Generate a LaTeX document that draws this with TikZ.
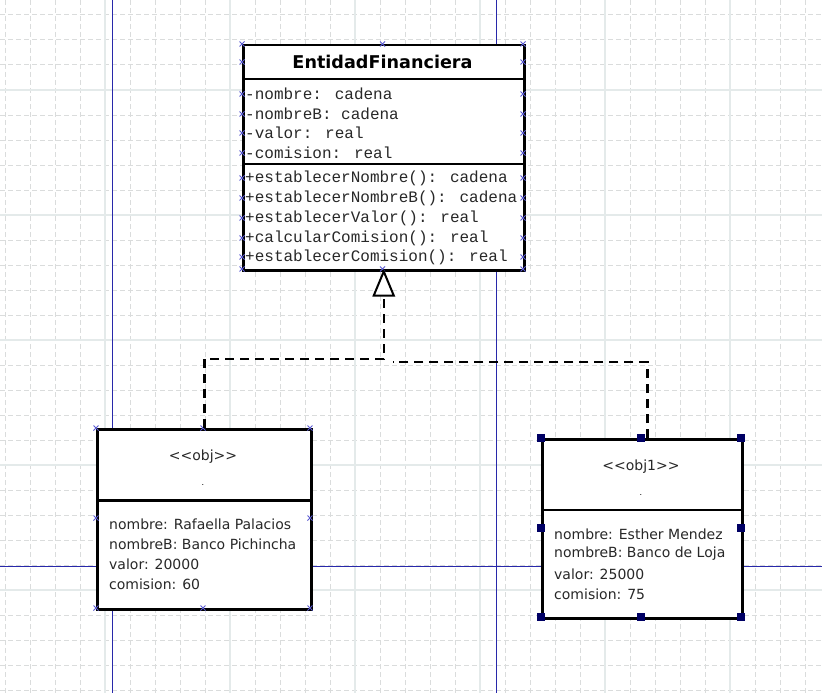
\documentclass[tikz,border=0pt]{standalone}
\usepackage{fontspec}
\setmainfont{DejaVu Sans}
\newfontfamily\monof{Liberation Mono}
\usetikzlibrary{arrows.meta}
\definecolor{gridd}{RGB}{218,220,220}
\definecolor{grids}{RGB}{228,234,234}
\definecolor{guide}{RGB}{40,40,170}
\definecolor{crossc}{RGB}{90,90,210}
\definecolor{handlec}{RGB}{0,0,100}
\definecolor{txt}{RGB}{40,40,40}
\tikzset{
  boxline/.style={draw=black, line width=2.5pt},
  umlbox/.style={boxline, fill=white, inner sep=0pt, anchor=north west},
  monotxt/.style={anchor=west, inner sep=0pt, font=\monof\fontsize{16}{16}\selectfont, text=txt},
  objtxt/.style={anchor=west, inner sep=0pt, font=\fontsize{14}{14}\selectfont, text=txt},
  conn/.style={draw=black, line width=2.5pt, dash pattern=on 9pt off 6pt},
  crs/.pic={\draw[crossc, line width=0.9pt] (-2.5,-2.5)--(2.5,2.5) (-2.5,2.5)--(2.5,-2.5);},
  hdl/.pic={\fill[handlec] (-4,-4) rectangle (4,4);}
}
\begin{document}
\begin{tikzpicture}[x=1pt,y=-1pt]
\useasboundingbox (0,0) rectangle (822,693);
\fill[white] (0,0) rectangle (822,693);
% dashed grid
\foreach \x in {5,30,...,820} \draw[gridd, line width=1pt, dash pattern=on 5pt off 3pt] (\x,0) -- (\x,693);
\foreach \y in {15,40,...,690} \draw[gridd, line width=1pt, dash pattern=on 5pt off 3pt] (0,\y) -- (822,\y);
% solid grid
\foreach \x in {105,230,355,480,605,730} \draw[grids, line width=1.2pt] (\x,0) -- (\x,693);
\foreach \y in {90,215,340,465,590} \draw[grids, line width=1.2pt] (0,\y) -- (822,\y);
% guides
\draw[guide, line width=1.3pt] (112.5,0) -- (112.5,693);
\draw[guide, line width=1.3pt] (496.5,0) -- (496.5,693);
\draw[guide, line width=1.3pt] (0,566.5) -- (822,566.5);

% class box
\node[umlbox, minimum width=281pt, minimum height=225pt] (ent) at (242,44) {};
\draw[boxline] (242,79) -- (523,79);
\draw[boxline] (242,164) -- (523,164);
\node[font=\bfseries\fontsize{17.6}{18}\selectfont, inner sep=0pt] (title) at (382.5,62) {EntidadFinanciera};
\node[monotxt] (a1) at (245,94) {-nombre: cadena};
\node[monotxt] (a2) at (245,114) {-nombreB: cadena};
\node[monotxt] (a3) at (245,133) {-valor: real};
\node[monotxt] (a4) at (245,153) {-comision: real};
\node[monotxt] (m1) at (245,178) {+establecerNombre(): cadena};
\node[monotxt] (m2) at (245,198) {+establecerNombreB(): cadena};
\node[monotxt] (m3) at (245,218) {+establecerValor(): real};
\node[monotxt] (m4) at (245,238) {+calcularComision(): real};
\node[monotxt] (m5) at (245,257) {+establecerComision(): real};
\foreach \y in {44,62,94,114,133,153,178,198,218,238,257,269} {
  \path (242,\y) pic {crs};
  \path (523,\y) pic {crs};
}
\path (382.5,44) pic {crs};
\path (382.5,269) pic {crs};

% object A
\node[umlbox, minimum width=214pt, minimum height=180pt] (objA) at (96,428) {};
\draw[boxline] (96,500.5) -- (310,500.5);
\node[objtxt, anchor=center] (stA) at (203,456.5) {<{}<obj>{}>};
\node[inner sep=0pt, font=\fontsize{8}{8}\selectfont] (dotA) at (203,485) {.};
\node[objtxt] (pa1) at (109,524) {nombre: Rafaella Palacios};
\node[objtxt] (pa2) at (109,544) {nombreB: Banco Pichincha};
\node[objtxt] (pa3) at (109,564) {valor: 20000};
\node[objtxt] (pa4) at (109,584) {comision: 60};
\foreach \p in {(96,428),(203,428),(310,428),(96,518),(310,518),(96,608),(203,608),(310,608)} \path \p pic {crs};

% object B
\node[umlbox, minimum width=200pt, minimum height=179pt] (objB) at (541,438) {};
\draw[boxline] (541,510) -- (741,510);
\node[objtxt, anchor=center] (stB) at (641,466.5) {<{}<obj1>{}>};
\node[inner sep=0pt, font=\fontsize{8}{8}\selectfont] (dotB) at (641,495) {.};
\node[objtxt] (pb1) at (554,534) {nombre: Esther Mendez};
\node[objtxt] (pb2) at (554,554) {nombreB: Banco de Loja};
\node[objtxt] (pb3) at (554,574) {valor: 25000};
\node[objtxt] (pb4) at (554,594) {comision: 75};
\foreach \p in {(541,438),(641,438),(741,438),(541,528),(741,528),(541,617),(641,617),(741,617)} \path \p pic {hdl};

% connectors
\coordinate (jy1) at (0,359);
\coordinate (jy2) at (0,362);
\coordinate (bt) at ([xshift=5pt]objB.north);
\draw[conn] (objA.north) -- (objA.north |- jy1) -- (ent.south |- jy1) -- ([yshift=-24pt]ent.south);
\draw[conn] (bt) -- (bt |- jy2) -- ([xshift=9pt]ent.south |- jy2);
\draw[black, line width=2pt, fill=white, line join=miter] (ent.south) -- ([xshift=-10pt,yshift=-24pt]ent.south) -- ([xshift=10pt,yshift=-24pt]ent.south) -- cycle;
\end{tikzpicture}
\end{document}
